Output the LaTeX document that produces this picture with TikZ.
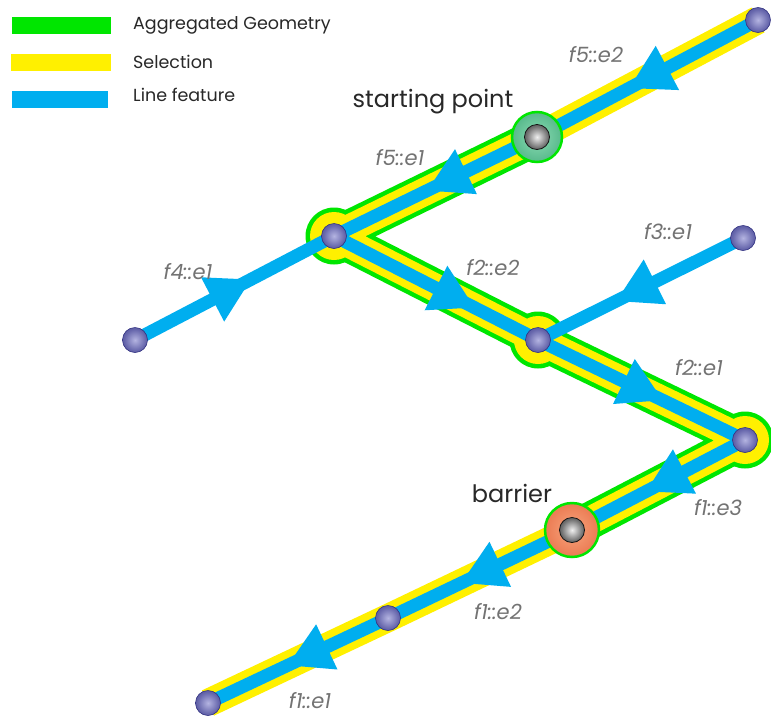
\documentclass[tikz,border=0pt]{standalone}
\usepackage{fontspec}
\setmainfont{Poppins}
\usetikzlibrary{decorations.markings}
\definecolor{aggGreen}{RGB}{0,230,0}
\definecolor{selYellow}{RGB}{255,240,0}
\definecolor{lineBlue}{RGB}{0,174,239}
\definecolor{ballIn}{RGB}{180,180,225}
\definecolor{ballMid}{RGB}{100,100,170}
\definecolor{ballOut}{RGB}{50,50,130}
\definecolor{blkIn}{RGB}{240,240,240}
\definecolor{blkMid}{RGB}{110,110,110}
\definecolor{blkOut}{RGB}{20,20,20}
\definecolor{tealIn}{RGB}{140,220,180}
\definecolor{tealOut}{RGB}{35,150,100}
\definecolor{orIn}{RGB}{248,165,125}
\definecolor{orOut}{RGB}{222,80,40}
\definecolor{labelGray}{RGB}{115,115,115}
\definecolor{textDark}{RGB}{40,40,40}
\pgfdeclareradialshading{nodeball}{\pgfpoint{0bp}{0bp}}{color(0bp)=(ballIn); color(22bp)=(ballMid); color(50bp)=(ballOut)}
\pgfdeclareradialshading{blkball}{\pgfpoint{0bp}{0bp}}{color(0bp)=(blkIn); color(22bp)=(blkMid); color(50bp)=(blkOut)}
\pgfdeclareradialshading{tealball}{\pgfpoint{0bp}{0bp}}{color(0bp)=(tealIn); color(50bp)=(tealOut)}
\pgfdeclareradialshading{orball}{\pgfpoint{0bp}{0bp}}{color(0bp)=(orIn); color(50bp)=(orOut)}
\tikzset{
  aggline/.style={draw=aggGreen, line width=37, line join=round},
  selline/.style={draw=selYellow, line width=28, line join=round},
  featline/.style={draw=lineBlue, line width=13},
  dirarrow/.style={postaction={decorate}, decoration={markings,
     mark=at position #1 with {\fill[lineBlue] (0,25) -- (43,0) -- (0,-25) -- cycle;}}},
  edgelabel/.style={font=\itshape\fontsize{21}{23}\selectfont, text=labelGray, inner sep=0},
  pointlabel/.style={font=\fontsize{24}{26}\selectfont, text=textDark, inner sep=0},
  legendtext/.style={font=\fontsize{17.5}{19}\selectfont, text=textDark, inner sep=0, anchor=west},
}
\newcommand{\nodeball}[1]{\shade[shading=nodeball] (#1) circle (12.5); \draw[ballOut, line width=0.6] (#1) circle (12.5);}
\newcommand{\blkball}[1]{\shade[shading=blkball] (#1) circle (12.5); \draw[blkOut, line width=0.8] (#1) circle (12.5);}
\begin{document}
\begin{tikzpicture}[x=1pt,y=-1pt]
\useasboundingbox[fill=white] (0,0) rectangle (771,718);
% points
\coordinate (P5) at (758,20);
\coordinate (S) at (537,137);
\coordinate (J1) at (334,236);
\coordinate (F4) at (135,340);
\coordinate (J2) at (538,340);
\coordinate (F3) at (743,238);
\coordinate (J3) at (745,440);
\coordinate (B) at (572,530);
\coordinate (M1) at (388,618);
\coordinate (F1) at (208,703);
% legend
\fill[aggGreen] (12,17) rectangle (111,34);
\fill[selYellow] (11,54) rectangle (111,71);
\fill[lineBlue] (12,91) rectangle (108,108);
\node[legendtext] (lg1) at (133,25) {Aggregated Geometry};
\node[legendtext] (lg2) at (133,62) {Selection};
\node[legendtext] (lg3) at (133,95) {Line feature};
% aggregated geometry
\path[aggline] (S) -- (J1) -- (J2) -- (J3) -- (B);
\foreach \p in {J1,J2,J3} \fill[aggGreen] (\p) circle (28.5);
% selection
\path[selline] (P5) -- (S) -- (J1) -- (J2) -- (J3) -- (B) -- (M1) -- (F1);
\foreach \p in {J1,J2,J3} \fill[selYellow] (\p) circle (24);
% line features
\path[featline, dirarrow=0.41] (P5) -- (S);
\path[featline, dirarrow=0.35] (S) -- (J1);
\path[featline, dirarrow=0.39] (F4) -- (J1);
\path[featline, dirarrow=0.50] (J1) -- (J2);
\path[featline, dirarrow=0.415] (J2) -- (J3);
\path[featline, dirarrow=0.43] (F3) -- (J2);
\path[featline, dirarrow=0.35] (J3) -- (B);
\path[featline, dirarrow=0.39] (B) -- (M1);
\path[featline, dirarrow=0.34] (M1) -- (F1);
% special points
\shade[shading=tealball] (S) circle (25);
\draw[aggGreen, line width=2.5] (S) circle (25);
\blkball{S}
\shade[shading=orball] (B) circle (27);
\draw[aggGreen, line width=2.5] (B) circle (27);
\blkball{B}
% vertices
\foreach \p in {P5,J1,F4,J2,F3,J3,M1,F1} {\nodeball{\p}}
% labels
\node[pointlabel] (lsp) at (433,102) {starting point};
\node[pointlabel] (lbr) at (512,493) {barrier};
\node[edgelabel] (l52) at (596,55) {f5::e2};
\node[edgelabel] (l51) at (400,158) {f5::e1};
\node[edgelabel] (l41) at (188,272) {f4::e1};
\node[edgelabel] (l31) at (668,232) {f3::e1};
\node[edgelabel] (l22) at (493,268) {f2::e2};
\node[edgelabel] (l21) at (699,368) {f2::e1};
\node[edgelabel] (l13) at (718,508) {f1::e3};
\node[edgelabel] (l12) at (498,612) {f1::e2};
\node[edgelabel] (l11) at (310,701) {f1::e1};
\end{tikzpicture}
\end{document}
